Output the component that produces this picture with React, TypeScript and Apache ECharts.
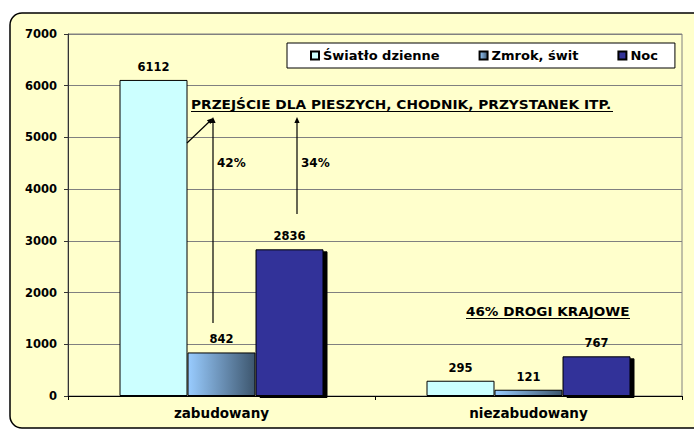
import React, { useEffect, useRef } from "react";
import * as echarts from "echarts";

const categories = ["zabudowany", "niezabudowany"];
const seriesNames = ["Światło dzienne", "Zmrok, świt", "Noc"];
const swiatlo = [6112, 295];
const zmrok = [842, 121];
const noc = [2836, 767];
const yMin = 0;
const yMax = 7000;
const yStep = 1000;
const noteTop = "PRZEJŚCIE DLA PIESZYCH, CHODNIK, PRZYSTANEK ITP.";
const noteBottom = "46% DROGI KRAJOWE";
const pct1 = "42%";
const pct2 = "34%";

const FONT = "DejaVu Sans";

export default function App() {
  const ref = useRef<HTMLDivElement>(null);
  useEffect(() => {
    if (!ref.current) return;
    const chart = echarts.init(ref.current, null, { renderer: "svg" });
    const label = {
      show: true,
      position: "top" as const,
      distance: 7,
      color: "#000",
      fontFamily: FONT,
      fontWeight: "bold" as const,
      fontSize: 11.5,
    };
    const arrowHead = (x: number, y: number, dx: number, dy: number) => {
      const len = Math.hypot(dx, dy);
      const ux = dx / len, uy = dy / len;
      const bx = x - ux * 6, by = y - uy * 6;
      const px = -uy * 2.6, py = ux * 2.6;
      return {
        type: "polygon",
        silent: true,
        z: 20,
        shape: { points: [[x, y], [bx + px, by + py], [bx - px, by - py]] },
        style: { fill: "#000" },
      };
    };
    const textStyle = (size: number) => ({
      fill: "#000",
      font: `bold ${size}px "${FONT}"`,
    });
    chart.setOption({
      animation: false,
      backgroundColor: "#fff",
      textStyle: { fontFamily: FONT },
      graphic: [
        {
          type: "rect",
          z: -10,
          silent: true,
          shape: { x: 10, y: 13, width: 700, height: 415, r: 12 },
          style: { fill: "#FFFFCC", stroke: "#000", lineWidth: 1.5 },
        },
        {
          type: "text",
          z: 20,
          x: 191,
          y: 105,
          scaleX: 1.1,
          style: { text: noteTop, ...textStyle(12.5), verticalAlign: "middle" },
        },
        { type: "line", z: 20, shape: { x1: 191, y1: 111.5, x2: 613, y2: 111.5 }, style: { stroke: "#000", lineWidth: 1 } },
        {
          type: "text",
          z: 20,
          x: 466,
          y: 312,
          scaleX: 1.085,
          style: { text: noteBottom, ...textStyle(12.5), verticalAlign: "middle" },
        },
        { type: "line", z: 20, shape: { x1: 466, y1: 318.5, x2: 630, y2: 318.5 }, style: { stroke: "#000", lineWidth: 1 } },
        { type: "text", z: 20, x: 217, y: 163, style: { text: pct1, ...textStyle(12), verticalAlign: "middle" } },
        { type: "text", z: 20, x: 301, y: 163, style: { text: pct2, ...textStyle(12), verticalAlign: "middle" } },
        { type: "line", z: 20, shape: { x1: 187, y1: 143, x2: 210, y2: 121 }, style: { stroke: "#000", lineWidth: 1.2 } },
        arrowHead(213, 118, 26, -25),
        { type: "line", z: 20, shape: { x1: 213, y1: 323, x2: 213, y2: 122 }, style: { stroke: "#000", lineWidth: 1.2 } },
        arrowHead(213, 117, 0, -1),
        { type: "line", z: 20, shape: { x1: 297, y1: 214, x2: 297, y2: 122 }, style: { stroke: "#000", lineWidth: 1.2 } },
        arrowHead(297, 117, 0, -1),
      ],
      legend: {
        left: 287,
        top: 43,
        width: 390,
        padding: [6, 17, 6, 23],
        itemGap: 39,
        itemWidth: 8,
        itemHeight: 8,
        icon: "rect",
        backgroundColor: "#fff",
        borderColor: "#000",
        borderWidth: 1,
        textStyle: { fontFamily: FONT, fontWeight: "bold", fontSize: 13, color: "#000", padding: [0, 0, 0, -1] },
        data: seriesNames,
      },
      grid: {
        left: 68,
        right: 12,
        top: 34,
        bottom: 34,
        show: true,
        borderColor: "#808080",
        borderWidth: 1,
        backgroundColor: "transparent",
      },
      xAxis: {
        type: "category",
        data: categories,
        axisLine: { lineStyle: { color: "#000", width: 1 } },
        axisTick: { show: true, length: 4, lineStyle: { color: "#000" } },
        axisLabel: { color: "#000", fontFamily: FONT, fontWeight: "bold", fontSize: 13.5, margin: 10 },
      },
      yAxis: {
        type: "value",
        min: yMin,
        max: yMax,
        interval: yStep,
        axisLine: { show: true, lineStyle: { color: "#333", width: 1 } },
        axisTick: { show: true, length: 4, lineStyle: { color: "#333" } },
        axisLabel: {
          color: "#000",
          fontFamily: FONT,
          fontWeight: "bold",
          fontSize: 11.5,
          margin: 11,
          formatter: (v: number) => String(v),
        },
        splitLine: { lineStyle: { color: "#808080", width: 1 } },
      },
      series: [
        {
          name: seriesNames[0],
          type: "bar",
          data: swiatlo,
          barWidth: 68,
          barGap: "0%",
          itemStyle: { color: "#CCFFFF", borderColor: "#000", borderWidth: 1 },
          label,
        },
        {
          name: seriesNames[1],
          type: "bar",
          data: zmrok,
          barWidth: 68,
          barGap: "0%",
          itemStyle: {
            color: new echarts.graphic.LinearGradient(0, 0, 1, 0, [
              { offset: 0, color: "#99CCFF" },
              { offset: 1, color: "#3D566E" },
            ]),
            borderColor: "#000",
            borderWidth: 1,
          },
          label,
        },
        {
          name: seriesNames[2],
          type: "bar",
          data: noc,
          barWidth: 68,
          barGap: "0%",
          itemStyle: {
            color: "#333399",
            borderColor: "#000",
            borderWidth: 1,
            shadowColor: "#000",
            shadowBlur: 0,
            shadowOffsetX: 4,
            shadowOffsetY: 2,
          },
          label,
        },
      ],
    });
    return () => chart.dispose();
  }, []);
  return (
    <div
      ref={ref}
      style={{ position: "fixed", left: 0, top: 0, width: 694, height: 430 }}
    />
  );
}
